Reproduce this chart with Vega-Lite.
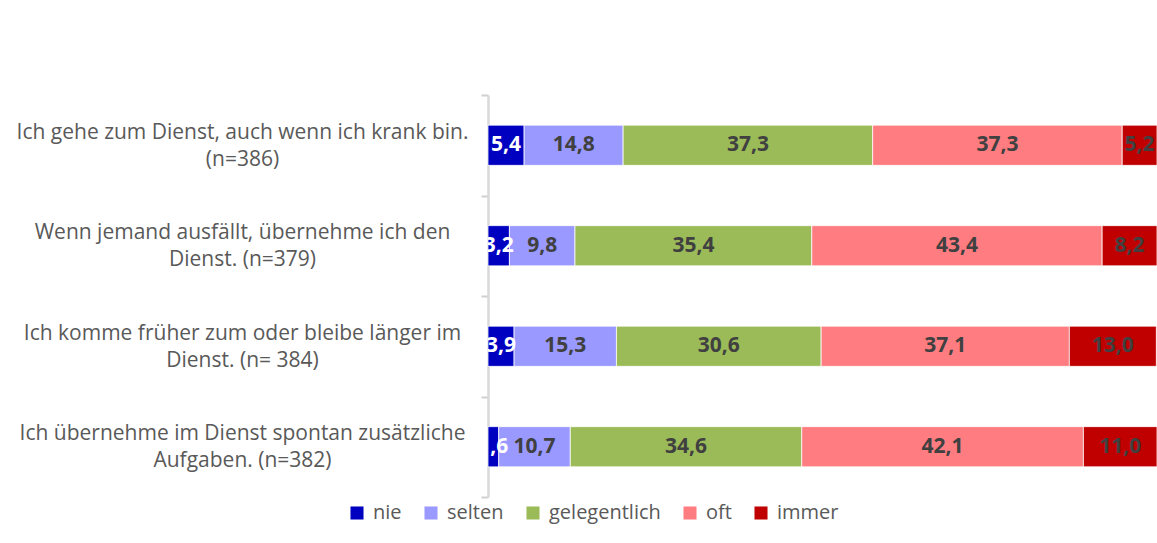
{
  "$schema": "https://vega.github.io/schema/vega-lite/v6.json",
  "width": 669,
  "height": 402,
  "autosize": {"type": "none"},
  "padding": {"left": 488, "top": 95, "right": 0, "bottom": 46},
  "background": "white",
  "config": {
    "view": {"stroke": null},
    "font": "Open Sans",
    "locale": {"number": {"decimal": ",", "thousands": ".", "grouping": [3], "currency": ["", " €"]}}
  },
  "data": {
    "values": [
      {"q": "Ich gehe zum Dienst, auch wenn ich krank bin.|(n=386)", "cat": "nie", "order": 1, "value": 5.4},
      {"q": "Ich gehe zum Dienst, auch wenn ich krank bin.|(n=386)", "cat": "selten", "order": 2, "value": 14.8},
      {"q": "Ich gehe zum Dienst, auch wenn ich krank bin.|(n=386)", "cat": "gelegentlich", "order": 3, "value": 37.3},
      {"q": "Ich gehe zum Dienst, auch wenn ich krank bin.|(n=386)", "cat": "oft", "order": 4, "value": 37.3},
      {"q": "Ich gehe zum Dienst, auch wenn ich krank bin.|(n=386)", "cat": "immer", "order": 5, "value": 5.2},
      {"q": "Wenn jemand ausfällt, übernehme ich den|Dienst. (n=379)", "cat": "nie", "order": 1, "value": 3.2},
      {"q": "Wenn jemand ausfällt, übernehme ich den|Dienst. (n=379)", "cat": "selten", "order": 2, "value": 9.8},
      {"q": "Wenn jemand ausfällt, übernehme ich den|Dienst. (n=379)", "cat": "gelegentlich", "order": 3, "value": 35.4},
      {"q": "Wenn jemand ausfällt, übernehme ich den|Dienst. (n=379)", "cat": "oft", "order": 4, "value": 43.4},
      {"q": "Wenn jemand ausfällt, übernehme ich den|Dienst. (n=379)", "cat": "immer", "order": 5, "value": 8.2},
      {"q": "Ich komme früher zum oder bleibe länger im|Dienst. (n= 384)", "cat": "nie", "order": 1, "value": 3.9},
      {"q": "Ich komme früher zum oder bleibe länger im|Dienst. (n= 384)", "cat": "selten", "order": 2, "value": 15.3},
      {"q": "Ich komme früher zum oder bleibe länger im|Dienst. (n= 384)", "cat": "gelegentlich", "order": 3, "value": 30.6},
      {"q": "Ich komme früher zum oder bleibe länger im|Dienst. (n= 384)", "cat": "oft", "order": 4, "value": 37.1},
      {"q": "Ich komme früher zum oder bleibe länger im|Dienst. (n= 384)", "cat": "immer", "order": 5, "value": 13.0},
      {"q": "Ich übernehme im Dienst spontan zusätzliche|Aufgaben. (n=382)", "cat": "nie", "order": 1, "value": 1.6},
      {"q": "Ich übernehme im Dienst spontan zusätzliche|Aufgaben. (n=382)", "cat": "selten", "order": 2, "value": 10.7},
      {"q": "Ich übernehme im Dienst spontan zusätzliche|Aufgaben. (n=382)", "cat": "gelegentlich", "order": 3, "value": 34.6},
      {"q": "Ich übernehme im Dienst spontan zusätzliche|Aufgaben. (n=382)", "cat": "oft", "order": 4, "value": 42.1},
      {"q": "Ich übernehme im Dienst spontan zusätzliche|Aufgaben. (n=382)", "cat": "immer", "order": 5, "value": 11.0}
    ]
  },
  "transform": [
    {"stack": "value", "groupby": ["q"], "sort": [{"field": "order", "order": "ascending"}], "as": ["v0", "v1"]},
    {"calculate": "(datum.v0 + datum.v1) / 2", "as": "mid"}
  ],
  "encoding": {
    "y": {
      "field": "q",
      "type": "nominal",
      "sort": [
        "Ich gehe zum Dienst, auch wenn ich krank bin.|(n=386)",
        "Wenn jemand ausfällt, übernehme ich den|Dienst. (n=379)",
        "Ich komme früher zum oder bleibe länger im|Dienst. (n= 384)",
        "Ich übernehme im Dienst spontan zusätzliche|Aufgaben. (n=382)"
      ],
      "scale": {"paddingInner": 0, "paddingOuter": 0},
      "axis": {
        "title": null,
        "ticks": true,
        "labelAlign": "center",
        "labelBaseline": "middle",
        "labelPadding": 239,
        "labelOffset": -13,
        "tickBand": "extent",
        "tickSize": 7,
        "tickColor": "#d0d0d0",
        "tickWidth": 2,
        "domainColor": "#d9d9d9",
        "domainWidth": 2.5,
        "labelFontSize": 21,
        "labelColor": "#595959",
        "labelFont": "Open Sans",
        "labelLimit": 0,
        "labelLineHeight": 27,
        "labelExpr": "datum.value ? split(datum.value, '|') : ''"
      }
    }
  },
  "layer": [
    {
      "mark": {"type": "bar", "stroke": "white", "strokeWidth": 0.75, "height": {"band": 0.4}},
      "encoding": {
        "x": {"field": "v0", "type": "quantitative", "scale": {"domain": [0, 100], "nice": false}, "axis": null},
        "x2": {"field": "v1"},
        "color": {
          "field": "cat",
          "type": "nominal",
          "scale": {
            "domain": ["nie", "selten", "gelegentlich", "oft", "immer"],
            "range": ["#0000C0", "#9999FF", "#9BBB59", "#FF7C80", "#C00000"]
          },
          "legend": {
            "orient": "none",
            "legendX": -141,
            "legendY": 408,
            "direction": "horizontal",
            "title": null,
            "symbolType": "square",
            "symbolSize": 170,
            "symbolStrokeWidth": 0,
            "labelFontSize": 20,
            "labelFont": "Open Sans",
            "labelColor": "#595959",
            "labelOffset": 6,
            "columnPadding": 19
          }
        }
      }
    },
    {
      "mark": {"type": "text", "fontWeight": "bold", "fontSize": 21, "clip": true, "font": "Open Sans"},
      "encoding": {
        "x": {"field": "mid", "type": "quantitative"},
        "text": {"field": "value", "type": "quantitative", "format": ".1f"},
        "color": {"condition": {"test": "datum.cat === 'nie'", "value": "white"}, "value": "#404040"}
      }
    }
  ]
}
